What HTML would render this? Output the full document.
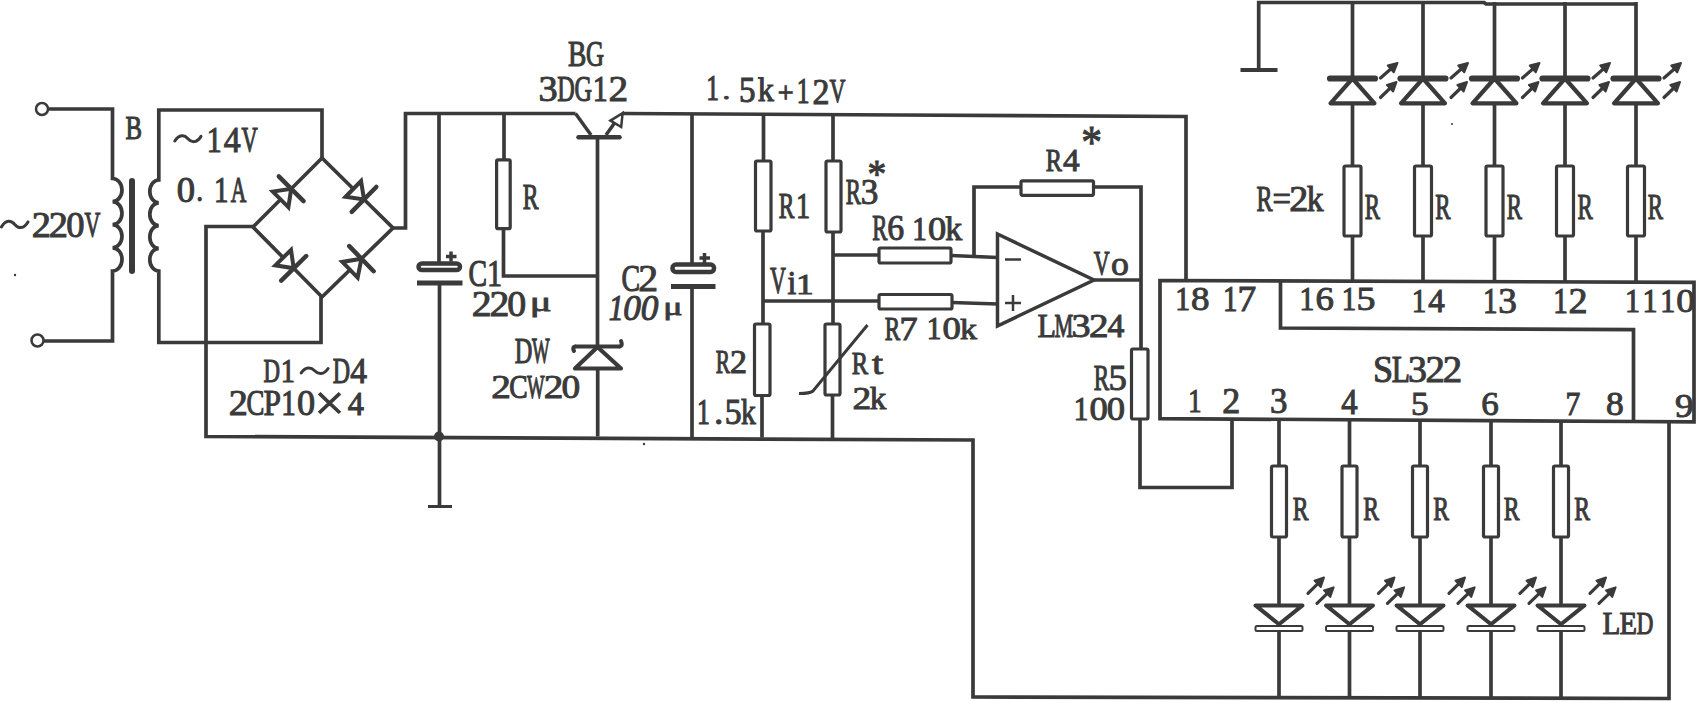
<!DOCTYPE html>
<html><head><meta charset="utf-8"><style>
html,body{margin:0;padding:0;background:#fff;width:1698px;height:703px;overflow:hidden}
svg{display:block}
</style></head><body>
<svg width="1698" height="703" viewBox="0 0 1698 703">
<rect width="1698" height="703" fill="#fff"/>
<circle cx="42" cy="109" r="6" stroke="#3a3a3a" stroke-width="2.5" fill="#fff"/>
<path d="M48,109 H112.5 V178.5  A9.5,11.549999999999997 0 0 1 112.5,201.6 A9.5,11.549999999999997 0 0 1 112.5,224.7 A9.5,11.550000000000011 0 0 1 112.5,247.8 A9.5,11.599999999999994 0 0 1 112.5,271 V341 H43.5" stroke="#3a3a3a" stroke-width="3.7" fill="none" stroke-linecap="butt" stroke-linejoin="miter" />
<circle cx="37.5" cy="340.5" r="6" stroke="#3a3a3a" stroke-width="2.5" fill="#fff"/>
<path d="M132,181 V271" stroke="#3a3a3a" stroke-width="6" fill="none" stroke-linecap="round" stroke-linejoin="miter" />
<path d="M321,297 V342.5 H158.8 V271 A9,-11.299999999999997 0 0 1 158.8,248.4 A9,-11.400000000000006 0 0 1 158.8,225.6 A9,-11.399999999999991 0 0 1 158.8,202.8 A9,-11.400000000000006 0 0 1 158.8,180 V110 H322 V158" stroke="#3a3a3a" stroke-width="3.7" fill="none" stroke-linecap="butt" stroke-linejoin="miter" />
<path d="M322,158 L393,228 L322,297 L253,227 Z" stroke="#3a3a3a" stroke-width="3.7" fill="none" stroke-linecap="butt" stroke-linejoin="miter" />
<polygon points="288.3553390593274,207.20101012677668 272.7989898732233,191.64466094067262 291.18376618407353,188.81623381592644" stroke="#3a3a3a" stroke-width="4" fill="#fff" stroke-linejoin="miter"/>
<path d="M303.5581348548381,201.190602486691 L278.80939751330897,176.44186514516187" stroke="#3a3a3a" stroke-width="4.5" fill="none" stroke-linecap="round" stroke-linejoin="miter" />
<polygon points="345.6097518039355,196.7244059961746 361.0553838252017,181.0581220888903 364.01412502408067,199.42237678430487" stroke="#3a3a3a" stroke-width="4" fill="#fff" stroke-linejoin="miter"/>
<path d="M351.7278268253462,211.88419352873558 L376.30042322281514,186.96056003987417" stroke="#3a3a3a" stroke-width="4.5" fill="none" stroke-linecap="round" stroke-linejoin="miter" />
<polygon points="275.3521352101436,265.34556104097913 291.0199951207586,249.9015277005158 293.7160878975852,268.306176127985" stroke="#3a3a3a" stroke-width="4" fill="#fff" stroke-linejoin="miter"/>
<path d="M281.2530175141415,280.5912026488081 L306.17915828102895,256.0211496071619" stroke="#3a3a3a" stroke-width="4.5" fill="none" stroke-linecap="round" stroke-linejoin="miter" />
<polygon points="357.63454577916167,277.70805486445613 342.3019946190802,261.9310819316187 361.4424323320936,258.6686220997964" stroke="#3a3a3a" stroke-width="4" fill="#fff" stroke-linejoin="miter"/>
<path d="M373.6387798457947,271.21848693273523 L349.24608481839243,246.11875726685753" stroke="#3a3a3a" stroke-width="4.5" fill="none" stroke-linecap="round" stroke-linejoin="miter" />
<path d="M393,228 H405.5 V113.5 H575.5" stroke="#3a3a3a" stroke-width="3.7" fill="none" stroke-linecap="butt" stroke-linejoin="miter" />
<path d="M253,226.5 H206 V436.5 L973,440 V697 L1669,698.5 V422" stroke="#3a3a3a" stroke-width="3.7" fill="none" stroke-linecap="butt" stroke-linejoin="miter" />
<path d="M439,113.5 V263.5" stroke="#3a3a3a" stroke-width="3.7" fill="none" stroke-linecap="butt" stroke-linejoin="miter" />
<rect x="418.5" y="263.5" width="41.5" height="6.5" rx="3.5" stroke="#3a3a3a" stroke-width="4.5" fill="none"/>
<path d="M446,256.5 H456.5 M451,251.5 V261.5" stroke="#3a3a3a" stroke-width="3.5" fill="none" stroke-linecap="butt" stroke-linejoin="miter" />
<path d="M417,283 H462.5" stroke="#3a3a3a" stroke-width="5" fill="none" stroke-linecap="butt" stroke-linejoin="miter" />
<path d="M439.5,283 V506.5" stroke="#3a3a3a" stroke-width="3.7" fill="none" stroke-linecap="butt" stroke-linejoin="miter" />
<path d="M428,506.5 H452" stroke="#3a3a3a" stroke-width="3" fill="none" stroke-linecap="butt" stroke-linejoin="miter" />
<circle cx="439" cy="436.5" r="5" fill="#3a3a3a"/>
<path d="M504,113.5 V159" stroke="#3a3a3a" stroke-width="3.7" fill="none" stroke-linecap="butt" stroke-linejoin="miter" />
<rect x="496.6" y="159.8" width="13.599999999999966" height="68.89999999999998" rx="1.5" stroke="#3a3a3a" stroke-width="3.2" fill="none"/>
<path d="M503.5,230 V276 H597.5" stroke="#3a3a3a" stroke-width="3.7" fill="none" stroke-linecap="butt" stroke-linejoin="miter" />
<path d="M575.5,113.5 L591,135" stroke="#3a3a3a" stroke-width="3.5" fill="none" stroke-linecap="butt" stroke-linejoin="miter" />
<path d="M578.5,137.3 H619.5" stroke="#3a3a3a" stroke-width="4.5" fill="none" stroke-linecap="round" stroke-linejoin="miter" />
<path d="M606,135 L616,121" stroke="#3a3a3a" stroke-width="3.5" fill="none" stroke-linecap="butt" stroke-linejoin="miter" />
<polygon points="610.5,120.6 621.2,127 622.6,113.2" stroke="#3a3a3a" stroke-width="2.5" fill="#fff" stroke-linejoin="miter"/>
<path d="M622,113.5 L900,115 L1186,116.5 V280.5" stroke="#3a3a3a" stroke-width="3.7" fill="none" stroke-linecap="butt" stroke-linejoin="miter" />
<path d="M597.5,139 V347" stroke="#3a3a3a" stroke-width="3.7" fill="none" stroke-linecap="butt" stroke-linejoin="miter" />
<path d="M575,346.5 H620" stroke="#3a3a3a" stroke-width="4" fill="none" stroke-linecap="butt" stroke-linejoin="miter" />
<path d="M575,346.5 Q572,347 574,351" stroke="#3a3a3a" stroke-width="4" fill="none" stroke-linecap="round" stroke-linejoin="miter" />
<path d="M620,346.5 Q623,346 621,341" stroke="#3a3a3a" stroke-width="4" fill="none" stroke-linecap="round" stroke-linejoin="miter" />
<polygon points="597.5,347 575,368.5 621,368.5" stroke="#3a3a3a" stroke-width="4.2" fill="none" stroke-linejoin="round"/>
<path d="M597.7,368.5 V436.5" stroke="#3a3a3a" stroke-width="3.7" fill="none" stroke-linecap="butt" stroke-linejoin="miter" />
<path d="M692,115 V264" stroke="#3a3a3a" stroke-width="3.7" fill="none" stroke-linecap="butt" stroke-linejoin="miter" />
<rect x="672.5" y="264.5" width="41.5" height="7.5" rx="3.5" stroke="#3a3a3a" stroke-width="4.5" fill="none"/>
<path d="M699.5,258 H710 M704.5,253 V263" stroke="#3a3a3a" stroke-width="3.5" fill="none" stroke-linecap="butt" stroke-linejoin="miter" />
<path d="M671,286.5 H715.5" stroke="#3a3a3a" stroke-width="5" fill="none" stroke-linecap="butt" stroke-linejoin="miter" />
<path d="M692,286 V437.5" stroke="#3a3a3a" stroke-width="3.7" fill="none" stroke-linecap="butt" stroke-linejoin="miter" />
<path d="M763.5,116 V161" stroke="#3a3a3a" stroke-width="3.7" fill="none" stroke-linecap="butt" stroke-linejoin="miter" />
<rect x="755.5" y="161" width="15.5" height="70" rx="1.5" stroke="#3a3a3a" stroke-width="3.2" fill="none"/>
<path d="M763,231 V324" stroke="#3a3a3a" stroke-width="3.7" fill="none" stroke-linecap="butt" stroke-linejoin="miter" />
<rect x="754.5" y="324" width="15.5" height="71.5" rx="1.5" stroke="#3a3a3a" stroke-width="3.2" fill="none"/>
<path d="M762,395.5 V437.5" stroke="#3a3a3a" stroke-width="3.7" fill="none" stroke-linecap="butt" stroke-linejoin="miter" />
<path d="M763,301 H879" stroke="#3a3a3a" stroke-width="3.7" fill="none" stroke-linecap="butt" stroke-linejoin="miter" />
<rect x="879" y="294.5" width="73" height="14.5" rx="1.5" stroke="#3a3a3a" stroke-width="3.2" fill="none"/>
<path d="M952,302.5 L997.5,304" stroke="#3a3a3a" stroke-width="3.7" fill="none" stroke-linecap="butt" stroke-linejoin="miter" />
<path d="M833,116 V161" stroke="#3a3a3a" stroke-width="3.7" fill="none" stroke-linecap="butt" stroke-linejoin="miter" />
<rect x="826" y="161" width="15" height="71" rx="1.5" stroke="#3a3a3a" stroke-width="3.2" fill="none"/>
<path d="M833,232 V324" stroke="#3a3a3a" stroke-width="3.7" fill="none" stroke-linecap="butt" stroke-linejoin="miter" />
<rect x="825" y="324" width="15" height="71" rx="1.5" stroke="#3a3a3a" stroke-width="3.2" fill="none"/>
<path d="M832.5,395 V439" stroke="#3a3a3a" stroke-width="3.7" fill="none" stroke-linecap="butt" stroke-linejoin="miter" />
<path d="M867.5,325 L813,391 Q810,393.5 799,393.5" stroke="#3a3a3a" stroke-width="3" fill="none" stroke-linecap="butt" stroke-linejoin="miter" />
<path d="M833,255 H879" stroke="#3a3a3a" stroke-width="3.7" fill="none" stroke-linecap="butt" stroke-linejoin="miter" />
<rect x="879" y="248" width="72" height="15" rx="1.5" stroke="#3a3a3a" stroke-width="3.2" fill="none"/>
<path d="M951,255.5 L997.5,257.5" stroke="#3a3a3a" stroke-width="3.7" fill="none" stroke-linecap="butt" stroke-linejoin="miter" />
<path d="M974,256.5 V187 H1020" stroke="#3a3a3a" stroke-width="3.7" fill="none" stroke-linecap="butt" stroke-linejoin="miter" />
<rect x="1021" y="180.8" width="72.5" height="14.5" rx="1.5" stroke="#3a3a3a" stroke-width="3.2" fill="none"/>
<path d="M1093.5,187 H1141 V349" stroke="#3a3a3a" stroke-width="3.7" fill="none" stroke-linecap="butt" stroke-linejoin="miter" />
<rect x="1131.5" y="349" width="16.5" height="70" rx="1.5" stroke="#3a3a3a" stroke-width="3.2" fill="none"/>
<path d="M1140,419 V487.5 H1232 V420" stroke="#3a3a3a" stroke-width="3.7" fill="none" stroke-linecap="butt" stroke-linejoin="miter" />
<polygon points="997.5,234 1094,280 997.5,326" stroke="#3a3a3a" stroke-width="3.5" fill="none" stroke-linejoin="miter"/>
<path d="M1094,280 H1141" stroke="#3a3a3a" stroke-width="3.7" fill="none" stroke-linecap="butt" stroke-linejoin="miter" />
<path d="M1005,259.5 H1021" stroke="#3a3a3a" stroke-width="2.5" fill="none" stroke-linecap="butt" stroke-linejoin="miter" />
<path d="M1005,303 H1021 M1013,295 V311" stroke="#3a3a3a" stroke-width="2.5" fill="none" stroke-linecap="butt" stroke-linejoin="miter" />
<path d="M1160,280.5 L1694,282.3 L1694,421.8 L1634,421.5 L1160,418.6 Z" stroke="#3a3a3a" stroke-width="3.7" fill="none" stroke-linecap="butt" stroke-linejoin="miter" />
<path d="M1280.5,281 V328 L1633.5,329.7 V421" stroke="#3a3a3a" stroke-width="3.7" fill="none" stroke-linecap="butt" stroke-linejoin="miter" />
<path d="M1258.7,70 V2.5 H1484 L1486,4 H1637" stroke="#3a3a3a" stroke-width="3.7" fill="none" stroke-linecap="butt" stroke-linejoin="miter" />
<path d="M1240.5,70 H1277.5" stroke="#3a3a3a" stroke-width="4.2" fill="none" stroke-linecap="butt" stroke-linejoin="miter" />
<path d="M1352.5,281 V236" stroke="#3a3a3a" stroke-width="3.7" fill="none" stroke-linecap="butt" stroke-linejoin="miter" />
<rect x="1344.0" y="166" width="17.0" height="70" rx="1.5" stroke="#3a3a3a" stroke-width="3.2" fill="none"/>
<path d="M1352.5,166 V2" stroke="#3a3a3a" stroke-width="3.7" fill="none" stroke-linecap="butt" stroke-linejoin="miter" />
<polygon points="1352.5,78.5 1330.5,103.3 1374.5,103.3" stroke="#3a3a3a" stroke-width="4.2" fill="#fff" stroke-linejoin="round"/>
<path d="M1330.0,78.5 H1375.0" stroke="#3a3a3a" stroke-width="6.2" fill="none" stroke-linecap="round" stroke-linejoin="miter" />
<path d="M1380.5,78 L1390.7514593017142,68.95459473378162" stroke="#3a3a3a" stroke-width="3.2" fill="none" stroke-linecap="round" stroke-linejoin="miter" />
<polygon points="1397.5,63 1393.728756668605,72.32886508292454 1387.7741619348235,65.5803243846387" stroke="#3a3a3a" stroke-width="2" fill="#3a3a3a" stroke-linejoin="round"/>
<path d="M1380.5,97.5 L1390.0358379948975,88.26215694244311" stroke="#3a3a3a" stroke-width="3.2" fill="none" stroke-linecap="round" stroke-linejoin="miter" />
<polygon points="1396.5,82 1393.1669164661191,91.4942379449944 1386.904759523676,85.03007593989183" stroke="#3a3a3a" stroke-width="2" fill="#3a3a3a" stroke-linejoin="round"/>
<path d="M1423,281 V236" stroke="#3a3a3a" stroke-width="3.7" fill="none" stroke-linecap="butt" stroke-linejoin="miter" />
<rect x="1414.5" y="166" width="17.0" height="70" rx="1.5" stroke="#3a3a3a" stroke-width="3.2" fill="none"/>
<path d="M1423,166 V2" stroke="#3a3a3a" stroke-width="3.7" fill="none" stroke-linecap="butt" stroke-linejoin="miter" />
<polygon points="1423,78.5 1401,103.3 1445,103.3" stroke="#3a3a3a" stroke-width="4.2" fill="#fff" stroke-linejoin="round"/>
<path d="M1400.5,78.5 H1445.5" stroke="#3a3a3a" stroke-width="6.2" fill="none" stroke-linecap="round" stroke-linejoin="miter" />
<path d="M1451,78 L1461.2514593017142,68.95459473378162" stroke="#3a3a3a" stroke-width="3.2" fill="none" stroke-linecap="round" stroke-linejoin="miter" />
<polygon points="1468,63 1464.228756668605,72.32886508292454 1458.2741619348235,65.5803243846387" stroke="#3a3a3a" stroke-width="2" fill="#3a3a3a" stroke-linejoin="round"/>
<path d="M1451,97.5 L1460.5358379948975,88.26215694244311" stroke="#3a3a3a" stroke-width="3.2" fill="none" stroke-linecap="round" stroke-linejoin="miter" />
<polygon points="1467,82 1463.6669164661191,91.4942379449944 1457.404759523676,85.03007593989183" stroke="#3a3a3a" stroke-width="2" fill="#3a3a3a" stroke-linejoin="round"/>
<path d="M1494.5,281 V236" stroke="#3a3a3a" stroke-width="3.7" fill="none" stroke-linecap="butt" stroke-linejoin="miter" />
<rect x="1486.0" y="166" width="17.0" height="70" rx="1.5" stroke="#3a3a3a" stroke-width="3.2" fill="none"/>
<path d="M1494.5,166 V2" stroke="#3a3a3a" stroke-width="3.7" fill="none" stroke-linecap="butt" stroke-linejoin="miter" />
<polygon points="1494.5,78.5 1472.5,103.3 1516.5,103.3" stroke="#3a3a3a" stroke-width="4.2" fill="#fff" stroke-linejoin="round"/>
<path d="M1472.0,78.5 H1517.0" stroke="#3a3a3a" stroke-width="6.2" fill="none" stroke-linecap="round" stroke-linejoin="miter" />
<path d="M1522.5,78 L1532.7514593017142,68.95459473378162" stroke="#3a3a3a" stroke-width="3.2" fill="none" stroke-linecap="round" stroke-linejoin="miter" />
<polygon points="1539.5,63 1535.728756668605,72.32886508292454 1529.7741619348235,65.5803243846387" stroke="#3a3a3a" stroke-width="2" fill="#3a3a3a" stroke-linejoin="round"/>
<path d="M1522.5,97.5 L1532.0358379948975,88.26215694244311" stroke="#3a3a3a" stroke-width="3.2" fill="none" stroke-linecap="round" stroke-linejoin="miter" />
<polygon points="1538.5,82 1535.1669164661191,91.4942379449944 1528.904759523676,85.03007593989183" stroke="#3a3a3a" stroke-width="2" fill="#3a3a3a" stroke-linejoin="round"/>
<path d="M1565,281 V236" stroke="#3a3a3a" stroke-width="3.7" fill="none" stroke-linecap="butt" stroke-linejoin="miter" />
<rect x="1556.5" y="166" width="17.0" height="70" rx="1.5" stroke="#3a3a3a" stroke-width="3.2" fill="none"/>
<path d="M1565,166 V2" stroke="#3a3a3a" stroke-width="3.7" fill="none" stroke-linecap="butt" stroke-linejoin="miter" />
<polygon points="1565,78.5 1543,103.3 1587,103.3" stroke="#3a3a3a" stroke-width="4.2" fill="#fff" stroke-linejoin="round"/>
<path d="M1542.5,78.5 H1587.5" stroke="#3a3a3a" stroke-width="6.2" fill="none" stroke-linecap="round" stroke-linejoin="miter" />
<path d="M1593,78 L1603.2514593017142,68.95459473378162" stroke="#3a3a3a" stroke-width="3.2" fill="none" stroke-linecap="round" stroke-linejoin="miter" />
<polygon points="1610,63 1606.228756668605,72.32886508292454 1600.2741619348235,65.5803243846387" stroke="#3a3a3a" stroke-width="2" fill="#3a3a3a" stroke-linejoin="round"/>
<path d="M1593,97.5 L1602.5358379948975,88.26215694244311" stroke="#3a3a3a" stroke-width="3.2" fill="none" stroke-linecap="round" stroke-linejoin="miter" />
<polygon points="1609,82 1605.6669164661191,91.4942379449944 1599.404759523676,85.03007593989183" stroke="#3a3a3a" stroke-width="2" fill="#3a3a3a" stroke-linejoin="round"/>
<path d="M1636,281 V236" stroke="#3a3a3a" stroke-width="3.7" fill="none" stroke-linecap="butt" stroke-linejoin="miter" />
<rect x="1627.5" y="166" width="17.0" height="70" rx="1.5" stroke="#3a3a3a" stroke-width="3.2" fill="none"/>
<path d="M1636,166 V2" stroke="#3a3a3a" stroke-width="3.7" fill="none" stroke-linecap="butt" stroke-linejoin="miter" />
<polygon points="1636,78.5 1614,103.3 1658,103.3" stroke="#3a3a3a" stroke-width="4.2" fill="#fff" stroke-linejoin="round"/>
<path d="M1613.5,78.5 H1658.5" stroke="#3a3a3a" stroke-width="6.2" fill="none" stroke-linecap="round" stroke-linejoin="miter" />
<path d="M1664,78 L1674.2514593017142,68.95459473378162" stroke="#3a3a3a" stroke-width="3.2" fill="none" stroke-linecap="round" stroke-linejoin="miter" />
<polygon points="1681,63 1677.228756668605,72.32886508292454 1671.2741619348235,65.5803243846387" stroke="#3a3a3a" stroke-width="2" fill="#3a3a3a" stroke-linejoin="round"/>
<path d="M1664,97.5 L1673.5358379948975,88.26215694244311" stroke="#3a3a3a" stroke-width="3.2" fill="none" stroke-linecap="round" stroke-linejoin="miter" />
<polygon points="1680,82 1676.6669164661191,91.4942379449944 1670.404759523676,85.03007593989183" stroke="#3a3a3a" stroke-width="2" fill="#3a3a3a" stroke-linejoin="round"/>
<path d="M1279,421 V466" stroke="#3a3a3a" stroke-width="3.7" fill="none" stroke-linecap="butt" stroke-linejoin="miter" />
<rect x="1271.5" y="466" width="15.0" height="71" rx="1.5" stroke="#3a3a3a" stroke-width="3.2" fill="none"/>
<path d="M1279,537 V698" stroke="#3a3a3a" stroke-width="3.7" fill="none" stroke-linecap="butt" stroke-linejoin="miter" />
<polygon points="1255.5,605.4 1302.5,605.4 1279,624.3" stroke="#3a3a3a" stroke-width="4" fill="#fff" stroke-linejoin="round"/>
<rect x="1255.5" y="626" width="47.0" height="5" rx="1.5" stroke="#3a3a3a" stroke-width="2" fill="#fff"/>
<path d="M1308,593.4 L1317.6161206151683,583.8439801386764" stroke="#3a3a3a" stroke-width="3.2" fill="none" stroke-linecap="round" stroke-linejoin="miter" />
<polygon points="1324,577.5 1320.7881106845066,587.0359198310923 1314.44413054583,580.6520404462606" stroke="#3a3a3a" stroke-width="2" fill="#3a3a3a" stroke-linejoin="round"/>
<path d="M1317,603.4 L1327.120008277528,593.6457751541898" stroke="#3a3a3a" stroke-width="3.2" fill="none" stroke-linecap="round" stroke-linejoin="miter" />
<polygon points="1333.6,587.4 1330.242895854623,596.8857710154257 1323.9971207004332,590.4057792929539" stroke="#3a3a3a" stroke-width="2" fill="#3a3a3a" stroke-linejoin="round"/>
<path d="M1349.5,421 V466" stroke="#3a3a3a" stroke-width="3.7" fill="none" stroke-linecap="butt" stroke-linejoin="miter" />
<rect x="1342.0" y="466" width="15.0" height="71" rx="1.5" stroke="#3a3a3a" stroke-width="3.2" fill="none"/>
<path d="M1349.5,537 V698" stroke="#3a3a3a" stroke-width="3.7" fill="none" stroke-linecap="butt" stroke-linejoin="miter" />
<polygon points="1326.0,605.4 1373.0,605.4 1349.5,624.3" stroke="#3a3a3a" stroke-width="4" fill="#fff" stroke-linejoin="round"/>
<rect x="1326.0" y="626" width="47.0" height="5" rx="1.5" stroke="#3a3a3a" stroke-width="2" fill="#fff"/>
<path d="M1378.5,593.4 L1388.1161206151683,583.8439801386764" stroke="#3a3a3a" stroke-width="3.2" fill="none" stroke-linecap="round" stroke-linejoin="miter" />
<polygon points="1394.5,577.5 1391.2881106845066,587.0359198310923 1384.94413054583,580.6520404462606" stroke="#3a3a3a" stroke-width="2" fill="#3a3a3a" stroke-linejoin="round"/>
<path d="M1387.5,603.4 L1397.620008277528,593.6457751541898" stroke="#3a3a3a" stroke-width="3.2" fill="none" stroke-linecap="round" stroke-linejoin="miter" />
<polygon points="1404.1,587.4 1400.742895854623,596.8857710154257 1394.4971207004332,590.4057792929539" stroke="#3a3a3a" stroke-width="2" fill="#3a3a3a" stroke-linejoin="round"/>
<path d="M1420,421 V466" stroke="#3a3a3a" stroke-width="3.7" fill="none" stroke-linecap="butt" stroke-linejoin="miter" />
<rect x="1412.5" y="466" width="15.0" height="71" rx="1.5" stroke="#3a3a3a" stroke-width="3.2" fill="none"/>
<path d="M1420,537 V698" stroke="#3a3a3a" stroke-width="3.7" fill="none" stroke-linecap="butt" stroke-linejoin="miter" />
<polygon points="1396.5,605.4 1443.5,605.4 1420,624.3" stroke="#3a3a3a" stroke-width="4" fill="#fff" stroke-linejoin="round"/>
<rect x="1396.5" y="626" width="47.0" height="5" rx="1.5" stroke="#3a3a3a" stroke-width="2" fill="#fff"/>
<path d="M1449,593.4 L1458.6161206151683,583.8439801386764" stroke="#3a3a3a" stroke-width="3.2" fill="none" stroke-linecap="round" stroke-linejoin="miter" />
<polygon points="1465,577.5 1461.7881106845066,587.0359198310923 1455.44413054583,580.6520404462606" stroke="#3a3a3a" stroke-width="2" fill="#3a3a3a" stroke-linejoin="round"/>
<path d="M1458,603.4 L1468.120008277528,593.6457751541898" stroke="#3a3a3a" stroke-width="3.2" fill="none" stroke-linecap="round" stroke-linejoin="miter" />
<polygon points="1474.6,587.4 1471.242895854623,596.8857710154257 1464.9971207004332,590.4057792929539" stroke="#3a3a3a" stroke-width="2" fill="#3a3a3a" stroke-linejoin="round"/>
<path d="M1491,421 V466" stroke="#3a3a3a" stroke-width="3.7" fill="none" stroke-linecap="butt" stroke-linejoin="miter" />
<rect x="1483.5" y="466" width="15.0" height="71" rx="1.5" stroke="#3a3a3a" stroke-width="3.2" fill="none"/>
<path d="M1491,537 V698" stroke="#3a3a3a" stroke-width="3.7" fill="none" stroke-linecap="butt" stroke-linejoin="miter" />
<polygon points="1467.5,605.4 1514.5,605.4 1491,624.3" stroke="#3a3a3a" stroke-width="4" fill="#fff" stroke-linejoin="round"/>
<rect x="1467.5" y="626" width="47.0" height="5" rx="1.5" stroke="#3a3a3a" stroke-width="2" fill="#fff"/>
<path d="M1520,593.4 L1529.6161206151683,583.8439801386764" stroke="#3a3a3a" stroke-width="3.2" fill="none" stroke-linecap="round" stroke-linejoin="miter" />
<polygon points="1536,577.5 1532.7881106845066,587.0359198310923 1526.44413054583,580.6520404462606" stroke="#3a3a3a" stroke-width="2" fill="#3a3a3a" stroke-linejoin="round"/>
<path d="M1529,603.4 L1539.120008277528,593.6457751541898" stroke="#3a3a3a" stroke-width="3.2" fill="none" stroke-linecap="round" stroke-linejoin="miter" />
<polygon points="1545.6,587.4 1542.242895854623,596.8857710154257 1535.9971207004332,590.4057792929539" stroke="#3a3a3a" stroke-width="2" fill="#3a3a3a" stroke-linejoin="round"/>
<path d="M1561,421 V466" stroke="#3a3a3a" stroke-width="3.7" fill="none" stroke-linecap="butt" stroke-linejoin="miter" />
<rect x="1553.5" y="466" width="15.0" height="71" rx="1.5" stroke="#3a3a3a" stroke-width="3.2" fill="none"/>
<path d="M1561,537 V698" stroke="#3a3a3a" stroke-width="3.7" fill="none" stroke-linecap="butt" stroke-linejoin="miter" />
<polygon points="1537.5,605.4 1584.5,605.4 1561,624.3" stroke="#3a3a3a" stroke-width="4" fill="#fff" stroke-linejoin="round"/>
<rect x="1537.5" y="626" width="47.0" height="5" rx="1.5" stroke="#3a3a3a" stroke-width="2" fill="#fff"/>
<path d="M1590,593.4 L1599.6161206151683,583.8439801386764" stroke="#3a3a3a" stroke-width="3.2" fill="none" stroke-linecap="round" stroke-linejoin="miter" />
<polygon points="1606,577.5 1602.7881106845066,587.0359198310923 1596.44413054583,580.6520404462606" stroke="#3a3a3a" stroke-width="2" fill="#3a3a3a" stroke-linejoin="round"/>
<path d="M1599,603.4 L1609.120008277528,593.6457751541898" stroke="#3a3a3a" stroke-width="3.2" fill="none" stroke-linecap="round" stroke-linejoin="miter" />
<polygon points="1615.6,587.4 1612.242895854623,596.8857710154257 1605.9971207004332,590.4057792929539" stroke="#3a3a3a" stroke-width="2" fill="#3a3a3a" stroke-linejoin="round"/>
<circle cx="15" cy="275" r="1.2" fill="#3a3a3a"/>
<circle cx="644" cy="444" r="1.2" fill="#3a3a3a"/>
<circle cx="1452" cy="124" r="1" fill="#3a3a3a"/>
<text transform="translate(31.77,237.26) scale(0.1921,0.1787)" font-family="Liberation Serif" font-weight="normal" font-style="normal" font-size="200" fill="#3a3a3a" stroke="#3a3a3a" stroke-width="1.0" vector-effect="non-scaling-stroke">2</text>
<text transform="translate(48.85,237.26) scale(0.1921,0.1787)" font-family="Liberation Serif" font-weight="normal" font-style="normal" font-size="200" fill="#3a3a3a" stroke="#3a3a3a" stroke-width="1.0" vector-effect="non-scaling-stroke">2</text>
<text transform="translate(66.19,237.26) scale(0.1830,0.1787)" font-family="Liberation Serif" font-weight="normal" font-style="normal" font-size="200" fill="#3a3a3a" stroke="#3a3a3a" stroke-width="1.0" vector-effect="non-scaling-stroke">0</text>
<text transform="translate(84.51,237.26) scale(0.1098,0.1787)" font-family="Liberation Serif" font-weight="normal" font-style="normal" font-size="200" fill="#3a3a3a" stroke="#3a3a3a" stroke-width="1.0" vector-effect="non-scaling-stroke">V</text>
<path d="M1.5,226.86 C5.9,219.48000000000002 11.21,220.3 14.75,224.4 S23.6,229.32 28.0,221.94" stroke="#3a3a3a" stroke-width="3" fill="none" stroke-linecap="round" stroke-linejoin="miter" />
<text transform="translate(125.46,139.03) scale(0.1237,0.1697)" font-family="Liberation Serif" font-weight="normal" font-style="normal" font-size="200" fill="#3a3a3a" stroke="#3a3a3a" stroke-width="1.0" vector-effect="non-scaling-stroke" xml:space="preserve">B</text>
<text transform="translate(206.81,152.27) scale(0.1496,0.1770)" font-family="Liberation Serif" font-weight="normal" font-style="normal" font-size="200" fill="#3a3a3a" stroke="#3a3a3a" stroke-width="1.0" vector-effect="non-scaling-stroke">1</text>
<text transform="translate(223.66,152.27) scale(0.1689,0.1770)" font-family="Liberation Serif" font-weight="normal" font-style="normal" font-size="200" fill="#3a3a3a" stroke="#3a3a3a" stroke-width="1.0" vector-effect="non-scaling-stroke">4</text>
<text transform="translate(241.57,152.27) scale(0.1122,0.1770)" font-family="Liberation Serif" font-weight="normal" font-style="normal" font-size="200" fill="#3a3a3a" stroke="#3a3a3a" stroke-width="1.0" vector-effect="non-scaling-stroke">V</text>
<path d="M174.8,141.04 C179.14000000000001,134.02 184.39600000000002,134.8 187.9,138.7 S196.66,143.38 201.0,136.36" stroke="#3a3a3a" stroke-width="3" fill="none" stroke-linecap="round" stroke-linejoin="miter" />
<text transform="translate(176.63,201.55) scale(0.1833,0.1770)" font-family="Liberation Serif" font-weight="normal" font-style="normal" font-size="200" fill="#3a3a3a" stroke="#3a3a3a" stroke-width="1.0" vector-effect="non-scaling-stroke" xml:space="preserve">0</text>
<text transform="translate(196.21,201.41) scale(0.1375,0.1625)" font-family="Liberation Serif" font-weight="normal" font-style="normal" font-size="200" fill="#3a3a3a" stroke="#3a3a3a" stroke-width="1.0" vector-effect="non-scaling-stroke" xml:space="preserve">.</text>
<text transform="translate(213.89,201.90) scale(0.1450,0.1811)" font-family="Liberation Serif" font-weight="normal" font-style="normal" font-size="200" fill="#3a3a3a" stroke="#3a3a3a" stroke-width="1.0" vector-effect="non-scaling-stroke">1</text>
<text transform="translate(230.66,201.90) scale(0.1080,0.1811)" font-family="Liberation Serif" font-weight="normal" font-style="normal" font-size="200" fill="#3a3a3a" stroke="#3a3a3a" stroke-width="1.0" vector-effect="non-scaling-stroke">A</text>
<text transform="translate(263.61,382.40) scale(0.1143,0.1735)" font-family="Liberation Serif" font-weight="normal" font-style="normal" font-size="200" fill="#3a3a3a" stroke="#3a3a3a" stroke-width="1.0" vector-effect="non-scaling-stroke">D</text>
<text transform="translate(280.74,382.40) scale(0.1416,0.1735)" font-family="Liberation Serif" font-weight="normal" font-style="normal" font-size="200" fill="#3a3a3a" stroke="#3a3a3a" stroke-width="1.0" vector-effect="non-scaling-stroke">1</text>
<path d="M301.2,372.91999999999996 C305.68,366.26 311.062,367 314.65,370.7 S323.62,375.14 328.1,368.48" stroke="#3a3a3a" stroke-width="3" fill="none" stroke-linecap="round" stroke-linejoin="miter" />
<text transform="translate(332.78,382.90) scale(0.1199,0.1773)" font-family="Liberation Serif" font-weight="normal" font-style="normal" font-size="200" fill="#3a3a3a" stroke="#3a3a3a" stroke-width="1.0" vector-effect="non-scaling-stroke">D</text>
<text transform="translate(350.15,382.90) scale(0.1676,0.1773)" font-family="Liberation Serif" font-weight="normal" font-style="normal" font-size="200" fill="#3a3a3a" stroke="#3a3a3a" stroke-width="1.0" vector-effect="non-scaling-stroke">4</text>
<text transform="translate(228.78,414.85) scale(0.1908,0.1770)" font-family="Liberation Serif" font-weight="normal" font-style="normal" font-size="200" fill="#3a3a3a" stroke="#3a3a3a" stroke-width="1.0" vector-effect="non-scaling-stroke">2</text>
<text transform="translate(246.39,414.85) scale(0.1339,0.1770)" font-family="Liberation Serif" font-weight="normal" font-style="normal" font-size="200" fill="#3a3a3a" stroke="#3a3a3a" stroke-width="1.0" vector-effect="non-scaling-stroke">C</text>
<text transform="translate(263.47,414.85) scale(0.1574,0.1770)" font-family="Liberation Serif" font-weight="normal" font-style="normal" font-size="200" fill="#3a3a3a" stroke="#3a3a3a" stroke-width="1.0" vector-effect="non-scaling-stroke">P</text>
<text transform="translate(281.30,414.85) scale(0.1454,0.1770)" font-family="Liberation Serif" font-weight="normal" font-style="normal" font-size="200" fill="#3a3a3a" stroke="#3a3a3a" stroke-width="1.0" vector-effect="non-scaling-stroke">1</text>
<text transform="translate(296.88,414.85) scale(0.1817,0.1770)" font-family="Liberation Serif" font-weight="normal" font-style="normal" font-size="200" fill="#3a3a3a" stroke="#3a3a3a" stroke-width="1.0" vector-effect="non-scaling-stroke">0</text>
<text transform="translate(314.27,419.91) scale(0.2704,0.2580)" font-family="Liberation Serif" font-weight="normal" font-style="normal" font-size="200" fill="#3a3a3a" stroke="#3a3a3a" stroke-width="1.0" vector-effect="non-scaling-stroke" xml:space="preserve">×</text>
<text transform="translate(347.85,414.70) scale(0.1613,0.1697)" font-family="Liberation Serif" font-weight="normal" font-style="normal" font-size="200" fill="#3a3a3a" stroke="#3a3a3a" stroke-width="1.0" vector-effect="non-scaling-stroke" xml:space="preserve">4</text>
<text transform="translate(568.08,66.15) scale(0.1373,0.1754)" font-family="Liberation Serif" font-weight="normal" font-style="normal" font-size="200" fill="#3a3a3a" stroke="#3a3a3a" stroke-width="1.0" vector-effect="non-scaling-stroke">B</text>
<text transform="translate(585.90,66.15) scale(0.1246,0.1754)" font-family="Liberation Serif" font-weight="normal" font-style="normal" font-size="200" fill="#3a3a3a" stroke="#3a3a3a" stroke-width="1.0" vector-effect="non-scaling-stroke">G</text>
<text transform="translate(538.58,101.33) scale(0.1917,0.1836)" font-family="Liberation Serif" font-weight="normal" font-style="normal" font-size="200" fill="#3a3a3a" stroke="#3a3a3a" stroke-width="1.0" vector-effect="non-scaling-stroke">3</text>
<text transform="translate(557.24,101.33) scale(0.1209,0.1836)" font-family="Liberation Serif" font-weight="normal" font-style="normal" font-size="200" fill="#3a3a3a" stroke="#3a3a3a" stroke-width="1.0" vector-effect="non-scaling-stroke">D</text>
<text transform="translate(574.47,101.33) scale(0.1209,0.1836)" font-family="Liberation Serif" font-weight="normal" font-style="normal" font-size="200" fill="#3a3a3a" stroke="#3a3a3a" stroke-width="1.0" vector-effect="non-scaling-stroke">G</text>
<text transform="translate(592.83,101.33) scale(0.1497,0.1836)" font-family="Liberation Serif" font-weight="normal" font-style="normal" font-size="200" fill="#3a3a3a" stroke="#3a3a3a" stroke-width="1.0" vector-effect="non-scaling-stroke">1</text>
<text transform="translate(608.61,101.33) scale(0.1965,0.1836)" font-family="Liberation Serif" font-weight="normal" font-style="normal" font-size="200" fill="#3a3a3a" stroke="#3a3a3a" stroke-width="1.0" vector-effect="non-scaling-stroke">2</text>
<text transform="translate(706.21,99.70) scale(0.1271,0.1750)" font-family="Liberation Serif" font-weight="normal" font-style="normal" font-size="200" fill="#3a3a3a" stroke="#3a3a3a" stroke-width="1.0" vector-effect="non-scaling-stroke" xml:space="preserve">1</text>
<text transform="translate(722.50,99.35) scale(0.1542,0.1167)" font-family="Liberation Serif" font-weight="normal" font-style="normal" font-size="200" fill="#3a3a3a" stroke="#3a3a3a" stroke-width="1.0" vector-effect="non-scaling-stroke" xml:space="preserve">.</text>
<text transform="translate(739.02,101.64) scale(0.1650,0.1805)" font-family="Liberation Serif" font-weight="normal" font-style="normal" font-size="200" fill="#3a3a3a" stroke="#3a3a3a" stroke-width="1.0" vector-effect="non-scaling-stroke" xml:space="preserve">5</text>
<text transform="translate(757.85,100.60) scale(0.1615,0.1691)" font-family="Liberation Serif" font-weight="normal" font-style="normal" font-size="200" fill="#3a3a3a" stroke="#3a3a3a" stroke-width="1.0" vector-effect="non-scaling-stroke" xml:space="preserve">k</text>
<text transform="translate(777.79,101.55) scale(0.1409,0.1500)" font-family="Liberation Serif" font-weight="normal" font-style="normal" font-size="200" fill="#3a3a3a" stroke="#3a3a3a" stroke-width="1.0" vector-effect="non-scaling-stroke" xml:space="preserve">+</text>
<text transform="translate(796.71,103.00) scale(0.1271,0.1750)" font-family="Liberation Serif" font-weight="normal" font-style="normal" font-size="200" fill="#3a3a3a" stroke="#3a3a3a" stroke-width="1.0" vector-effect="non-scaling-stroke" xml:space="preserve">1</text>
<text transform="translate(812.57,103.90) scale(0.1700,0.1818)" font-family="Liberation Serif" font-weight="normal" font-style="normal" font-size="200" fill="#3a3a3a" stroke="#3a3a3a" stroke-width="1.0" vector-effect="non-scaling-stroke" xml:space="preserve">2</text>
<text transform="translate(829.38,102.48) scale(0.1107,0.1724)" font-family="Liberation Serif" font-weight="normal" font-style="normal" font-size="200" fill="#3a3a3a" stroke="#3a3a3a" stroke-width="1.0" vector-effect="non-scaling-stroke" xml:space="preserve">V</text>
<text transform="translate(522.79,209.10) scale(0.1181,0.1786)" font-family="Liberation Serif" font-weight="normal" font-style="normal" font-size="200" fill="#3a3a3a" stroke="#3a3a3a" stroke-width="1.0" vector-effect="non-scaling-stroke" xml:space="preserve">R</text>
<text transform="translate(468.39,285.92) scale(0.1389,0.1903)" font-family="Liberation Serif" font-weight="normal" font-style="normal" font-size="200" fill="#3a3a3a" stroke="#3a3a3a" stroke-width="1.0" vector-effect="non-scaling-stroke">C</text>
<text transform="translate(487.02,285.92) scale(0.1509,0.1903)" font-family="Liberation Serif" font-weight="normal" font-style="normal" font-size="200" fill="#3a3a3a" stroke="#3a3a3a" stroke-width="1.0" vector-effect="non-scaling-stroke">1</text>
<text transform="translate(471.71,315.73) scale(0.1990,0.1837)" font-family="Liberation Serif" font-weight="normal" font-style="normal" font-size="200" fill="#3a3a3a" stroke="#3a3a3a" stroke-width="1.0" vector-effect="non-scaling-stroke">2</text>
<text transform="translate(489.40,315.73) scale(0.1990,0.1837)" font-family="Liberation Serif" font-weight="normal" font-style="normal" font-size="200" fill="#3a3a3a" stroke="#3a3a3a" stroke-width="1.0" vector-effect="non-scaling-stroke">2</text>
<text transform="translate(507.36,315.73) scale(0.1895,0.1837)" font-family="Liberation Serif" font-weight="normal" font-style="normal" font-size="200" fill="#3a3a3a" stroke="#3a3a3a" stroke-width="1.0" vector-effect="non-scaling-stroke">0</text>
<text transform="translate(529.84,310.78) scale(0.2036,0.1400)" font-family="Liberation Serif" font-weight="normal" font-style="normal" font-size="200" fill="#3a3a3a" stroke="#3a3a3a" stroke-width="1.0" vector-effect="non-scaling-stroke" xml:space="preserve">μ</text>
<text transform="translate(621.39,290.53) scale(0.1392,0.1851)" font-family="Liberation Serif" font-weight="normal" font-style="normal" font-size="200" fill="#3a3a3a" stroke="#3a3a3a" stroke-width="1.0" vector-effect="non-scaling-stroke">C</text>
<text transform="translate(638.35,290.53) scale(0.1984,0.1851)" font-family="Liberation Serif" font-weight="normal" font-style="normal" font-size="200" fill="#3a3a3a" stroke="#3a3a3a" stroke-width="1.0" vector-effect="non-scaling-stroke">2</text>
<text transform="translate(608.87,319.75) scale(0.1478,0.1748)" font-family="Liberation Serif" font-weight="normal" font-style="italic" font-size="200" fill="#3a3a3a" stroke="#3a3a3a" stroke-width="1.0" vector-effect="non-scaling-stroke">1</text>
<text transform="translate(623.35,319.75) scale(0.1769,0.1748)" font-family="Liberation Serif" font-weight="normal" font-style="italic" font-size="200" fill="#3a3a3a" stroke="#3a3a3a" stroke-width="1.0" vector-effect="non-scaling-stroke">0</text>
<text transform="translate(640.84,319.75) scale(0.1769,0.1748)" font-family="Liberation Serif" font-weight="normal" font-style="italic" font-size="200" fill="#3a3a3a" stroke="#3a3a3a" stroke-width="1.0" vector-effect="non-scaling-stroke">0</text>
<text transform="translate(663.33,315.19) scale(0.1795,0.1304)" font-family="Liberation Serif" font-weight="normal" font-style="normal" font-size="200" fill="#3a3a3a" stroke="#3a3a3a" stroke-width="1.0" vector-effect="non-scaling-stroke" xml:space="preserve">μ</text>
<text transform="translate(514.67,363.36) scale(0.1218,0.1784)" font-family="Liberation Serif" font-weight="normal" font-style="normal" font-size="200" fill="#3a3a3a" stroke="#3a3a3a" stroke-width="1.0" vector-effect="non-scaling-stroke">D</text>
<text transform="translate(532.11,363.36) scale(0.0936,0.1784)" font-family="Liberation Serif" font-weight="normal" font-style="normal" font-size="200" fill="#3a3a3a" stroke="#3a3a3a" stroke-width="1.0" vector-effect="non-scaling-stroke">W</text>
<text transform="translate(491.23,397.68) scale(0.1965,0.1721)" font-family="Liberation Serif" font-weight="normal" font-style="normal" font-size="200" fill="#3a3a3a" stroke="#3a3a3a" stroke-width="1.0" vector-effect="non-scaling-stroke">2</text>
<text transform="translate(509.37,397.68) scale(0.1379,0.1721)" font-family="Liberation Serif" font-weight="normal" font-style="normal" font-size="200" fill="#3a3a3a" stroke="#3a3a3a" stroke-width="1.0" vector-effect="non-scaling-stroke">C</text>
<text transform="translate(527.07,397.68) scale(0.0929,0.1721)" font-family="Liberation Serif" font-weight="normal" font-style="normal" font-size="200" fill="#3a3a3a" stroke="#3a3a3a" stroke-width="1.0" vector-effect="non-scaling-stroke">W</text>
<text transform="translate(543.64,397.68) scale(0.1965,0.1721)" font-family="Liberation Serif" font-weight="normal" font-style="normal" font-size="200" fill="#3a3a3a" stroke="#3a3a3a" stroke-width="1.0" vector-effect="non-scaling-stroke">2</text>
<text transform="translate(561.38,397.68) scale(0.1872,0.1721)" font-family="Liberation Serif" font-weight="normal" font-style="normal" font-size="200" fill="#3a3a3a" stroke="#3a3a3a" stroke-width="1.0" vector-effect="non-scaling-stroke">0</text>
<text transform="translate(778.80,217.70) scale(0.1166,0.1765)" font-family="Liberation Serif" font-weight="normal" font-style="normal" font-size="200" fill="#3a3a3a" stroke="#3a3a3a" stroke-width="1.0" vector-effect="non-scaling-stroke">R</text>
<text transform="translate(795.89,217.70) scale(0.1411,0.1765)" font-family="Liberation Serif" font-weight="normal" font-style="normal" font-size="200" fill="#3a3a3a" stroke="#3a3a3a" stroke-width="1.0" vector-effect="non-scaling-stroke">1</text>
<text transform="translate(769.98,293.03) scale(0.1100,0.1910)" font-family="Liberation Serif" font-weight="normal" font-style="normal" font-size="200" fill="#3a3a3a" stroke="#3a3a3a" stroke-width="1.0" vector-effect="non-scaling-stroke" xml:space="preserve">V</text>
<text transform="translate(787.57,293.60) scale(0.1583,0.1674)" font-family="Liberation Serif" font-weight="normal" font-style="normal" font-size="200" fill="#3a3a3a" stroke="#3a3a3a" stroke-width="1.0" vector-effect="non-scaling-stroke" xml:space="preserve">i</text>
<text transform="translate(795.91,293.60) scale(0.1771,0.1523)" font-family="Liberation Serif" font-weight="normal" font-style="normal" font-size="200" fill="#3a3a3a" stroke="#3a3a3a" stroke-width="1.0" vector-effect="non-scaling-stroke" xml:space="preserve">1</text>
<text transform="translate(715.86,372.60) scale(0.1070,0.1644)" font-family="Liberation Serif" font-weight="normal" font-style="normal" font-size="200" fill="#3a3a3a" stroke="#3a3a3a" stroke-width="1.0" vector-effect="non-scaling-stroke">R</text>
<text transform="translate(730.08,372.60) scale(0.1699,0.1644)" font-family="Liberation Serif" font-weight="normal" font-style="normal" font-size="200" fill="#3a3a3a" stroke="#3a3a3a" stroke-width="1.0" vector-effect="non-scaling-stroke">2</text>
<text transform="translate(696.89,424.27) scale(0.1283,0.1768)" font-family="Liberation Serif" font-weight="normal" font-style="normal" font-size="200" fill="#3a3a3a" stroke="#3a3a3a" stroke-width="1.0" vector-effect="non-scaling-stroke">1</text>
<text transform="translate(713.98,424.27) scale(0.1871,0.1768)" font-family="Liberation Serif" font-weight="normal" font-style="normal" font-size="200" fill="#3a3a3a" stroke="#3a3a3a" stroke-width="1.0" vector-effect="non-scaling-stroke">.</text>
<text transform="translate(724.87,424.27) scale(0.1684,0.1768)" font-family="Liberation Serif" font-weight="normal" font-style="normal" font-size="200" fill="#3a3a3a" stroke="#3a3a3a" stroke-width="1.0" vector-effect="non-scaling-stroke">5</text>
<text transform="translate(740.89,424.27) scale(0.1481,0.1768)" font-family="Liberation Serif" font-weight="normal" font-style="normal" font-size="200" fill="#3a3a3a" stroke="#3a3a3a" stroke-width="1.0" vector-effect="non-scaling-stroke">k</text>
<text transform="translate(845.82,204.14) scale(0.1138,0.1791)" font-family="Liberation Serif" font-weight="normal" font-style="normal" font-size="200" fill="#3a3a3a" stroke="#3a3a3a" stroke-width="1.0" vector-effect="non-scaling-stroke">R</text>
<text transform="translate(860.79,204.14) scale(0.1762,0.1791)" font-family="Liberation Serif" font-weight="normal" font-style="normal" font-size="200" fill="#3a3a3a" stroke="#3a3a3a" stroke-width="1.0" vector-effect="non-scaling-stroke">3</text>
<text transform="translate(867.62,187.42) scale(0.1875,0.2055)" font-family="Liberation Serif" font-weight="normal" font-style="normal" font-size="200" fill="#3a3a3a" stroke="#3a3a3a" stroke-width="1.0" vector-effect="non-scaling-stroke" xml:space="preserve">*</text>
<text transform="translate(1045.77,170.70) scale(0.1216,0.1621)" font-family="Liberation Serif" font-weight="normal" font-style="normal" font-size="200" fill="#3a3a3a" stroke="#3a3a3a" stroke-width="1.0" vector-effect="non-scaling-stroke">R</text>
<text transform="translate(1062.99,170.70) scale(0.1660,0.1621)" font-family="Liberation Serif" font-weight="normal" font-style="normal" font-size="200" fill="#3a3a3a" stroke="#3a3a3a" stroke-width="1.0" vector-effect="non-scaling-stroke">4</text>
<text transform="translate(1081.22,158.29) scale(0.2075,0.2274)" font-family="Liberation Serif" font-weight="normal" font-style="normal" font-size="200" fill="#3a3a3a" stroke="#3a3a3a" stroke-width="1.0" vector-effect="non-scaling-stroke" xml:space="preserve">*</text>
<text transform="translate(872.22,240.45) scale(0.1130,0.1769)" font-family="Liberation Serif" font-weight="normal" font-style="normal" font-size="200" fill="#3a3a3a" stroke="#3a3a3a" stroke-width="1.0" vector-effect="non-scaling-stroke">R</text>
<text transform="translate(887.33,240.45) scale(0.1689,0.1769)" font-family="Liberation Serif" font-weight="normal" font-style="normal" font-size="200" fill="#3a3a3a" stroke="#3a3a3a" stroke-width="1.0" vector-effect="non-scaling-stroke">6</text>
<text transform="translate(912.28,240.46) scale(0.1458,0.1681)" font-family="Liberation Serif" font-weight="normal" font-style="normal" font-size="200" fill="#3a3a3a" stroke="#3a3a3a" stroke-width="1.0" vector-effect="non-scaling-stroke">1</text>
<text transform="translate(927.90,240.46) scale(0.1822,0.1681)" font-family="Liberation Serif" font-weight="normal" font-style="normal" font-size="200" fill="#3a3a3a" stroke="#3a3a3a" stroke-width="1.0" vector-effect="non-scaling-stroke">0</text>
<text transform="translate(945.27,240.46) scale(0.1683,0.1681)" font-family="Liberation Serif" font-weight="normal" font-style="normal" font-size="200" fill="#3a3a3a" stroke="#3a3a3a" stroke-width="1.0" vector-effect="non-scaling-stroke">k</text>
<text transform="translate(884.81,339.50) scale(0.1156,0.1641)" font-family="Liberation Serif" font-weight="normal" font-style="normal" font-size="200" fill="#3a3a3a" stroke="#3a3a3a" stroke-width="1.0" vector-effect="non-scaling-stroke">R</text>
<text transform="translate(899.46,339.50) scale(0.1813,0.1641)" font-family="Liberation Serif" font-weight="normal" font-style="normal" font-size="200" fill="#3a3a3a" stroke="#3a3a3a" stroke-width="1.0" vector-effect="non-scaling-stroke">7</text>
<text transform="translate(926.86,339.20) scale(0.1467,0.1525)" font-family="Liberation Serif" font-weight="normal" font-style="normal" font-size="200" fill="#3a3a3a" stroke="#3a3a3a" stroke-width="1.0" vector-effect="non-scaling-stroke">1</text>
<text transform="translate(942.58,339.20) scale(0.1834,0.1525)" font-family="Liberation Serif" font-weight="normal" font-style="normal" font-size="200" fill="#3a3a3a" stroke="#3a3a3a" stroke-width="1.0" vector-effect="non-scaling-stroke">0</text>
<text transform="translate(960.06,339.20) scale(0.1694,0.1525)" font-family="Liberation Serif" font-weight="normal" font-style="normal" font-size="200" fill="#3a3a3a" stroke="#3a3a3a" stroke-width="1.0" vector-effect="non-scaling-stroke">k</text>
<text transform="translate(851.76,373.98) scale(0.1227,0.1624)" font-family="Liberation Serif" font-weight="normal" font-style="normal" font-size="200" fill="#3a3a3a" stroke="#3a3a3a" stroke-width="1.0" vector-effect="non-scaling-stroke">R</text>
<text transform="translate(872.01,373.98) scale(0.1998,0.1624)" font-family="Liberation Serif" font-weight="normal" font-style="normal" font-size="200" fill="#3a3a3a" stroke="#3a3a3a" stroke-width="1.0" vector-effect="non-scaling-stroke">t</text>
<text transform="translate(852.51,409.20) scale(0.1876,0.1561)" font-family="Liberation Serif" font-weight="normal" font-style="normal" font-size="200" fill="#3a3a3a" stroke="#3a3a3a" stroke-width="1.0" vector-effect="non-scaling-stroke">2</text>
<text transform="translate(869.80,409.20) scale(0.1650,0.1561)" font-family="Liberation Serif" font-weight="normal" font-style="normal" font-size="200" fill="#3a3a3a" stroke="#3a3a3a" stroke-width="1.0" vector-effect="non-scaling-stroke">k</text>
<text transform="translate(1093.78,273.78) scale(0.1100,0.1724)" font-family="Liberation Serif" font-weight="normal" font-style="normal" font-size="200" fill="#3a3a3a" stroke="#3a3a3a" stroke-width="1.0" vector-effect="non-scaling-stroke" xml:space="preserve">V</text>
<text transform="translate(1111.07,274.66) scale(0.1786,0.1708)" font-family="Liberation Serif" font-weight="normal" font-style="normal" font-size="200" fill="#3a3a3a" stroke="#3a3a3a" stroke-width="1.0" vector-effect="non-scaling-stroke" xml:space="preserve">o</text>
<text transform="translate(1037.60,336.86) scale(0.1508,0.1716)" font-family="Liberation Serif" font-weight="normal" font-style="normal" font-size="200" fill="#3a3a3a" stroke="#3a3a3a" stroke-width="1.0" vector-effect="non-scaling-stroke">L</text>
<text transform="translate(1054.43,336.86) scale(0.1050,0.1716)" font-family="Liberation Serif" font-weight="normal" font-style="normal" font-size="200" fill="#3a3a3a" stroke="#3a3a3a" stroke-width="1.0" vector-effect="non-scaling-stroke">M</text>
<text transform="translate(1071.44,336.86) scale(0.1913,0.1716)" font-family="Liberation Serif" font-weight="normal" font-style="normal" font-size="200" fill="#3a3a3a" stroke="#3a3a3a" stroke-width="1.0" vector-effect="non-scaling-stroke">3</text>
<text transform="translate(1089.02,336.86) scale(0.1961,0.1716)" font-family="Liberation Serif" font-weight="normal" font-style="normal" font-size="200" fill="#3a3a3a" stroke="#3a3a3a" stroke-width="1.0" vector-effect="non-scaling-stroke">2</text>
<text transform="translate(1107.54,336.86) scale(0.1687,0.1716)" font-family="Liberation Serif" font-weight="normal" font-style="normal" font-size="200" fill="#3a3a3a" stroke="#3a3a3a" stroke-width="1.0" vector-effect="non-scaling-stroke">4</text>
<text transform="translate(1093.81,390.14) scale(0.1156,0.1805)" font-family="Liberation Serif" font-weight="normal" font-style="normal" font-size="200" fill="#3a3a3a" stroke="#3a3a3a" stroke-width="1.0" vector-effect="non-scaling-stroke">R</text>
<text transform="translate(1108.61,390.14) scale(0.1836,0.1805)" font-family="Liberation Serif" font-weight="normal" font-style="normal" font-size="200" fill="#3a3a3a" stroke="#3a3a3a" stroke-width="1.0" vector-effect="non-scaling-stroke">5</text>
<text transform="translate(1073.86,420.17) scale(0.1465,0.1667)" font-family="Liberation Serif" font-weight="normal" font-style="normal" font-size="200" fill="#3a3a3a" stroke="#3a3a3a" stroke-width="1.0" vector-effect="non-scaling-stroke">1</text>
<text transform="translate(1089.56,420.17) scale(0.1831,0.1667)" font-family="Liberation Serif" font-weight="normal" font-style="normal" font-size="200" fill="#3a3a3a" stroke="#3a3a3a" stroke-width="1.0" vector-effect="non-scaling-stroke">0</text>
<text transform="translate(1106.65,420.17) scale(0.1831,0.1667)" font-family="Liberation Serif" font-weight="normal" font-style="normal" font-size="200" fill="#3a3a3a" stroke="#3a3a3a" stroke-width="1.0" vector-effect="non-scaling-stroke">0</text>
<text transform="translate(1175.13,310.16) scale(0.1484,0.1704)" font-family="Liberation Serif" font-weight="normal" font-style="normal" font-size="200" fill="#3a3a3a" stroke="#3a3a3a" stroke-width="1.0" vector-effect="non-scaling-stroke">1</text>
<text transform="translate(1191.03,310.16) scale(0.1855,0.1704)" font-family="Liberation Serif" font-weight="normal" font-style="normal" font-size="200" fill="#3a3a3a" stroke="#3a3a3a" stroke-width="1.0" vector-effect="non-scaling-stroke">8</text>
<text transform="translate(1223.00,311.30) scale(0.1445,0.1803)" font-family="Liberation Serif" font-weight="normal" font-style="normal" font-size="200" fill="#3a3a3a" stroke="#3a3a3a" stroke-width="1.0" vector-effect="non-scaling-stroke">1</text>
<text transform="translate(1237.49,311.30) scale(0.1873,0.1803)" font-family="Liberation Serif" font-weight="normal" font-style="normal" font-size="200" fill="#3a3a3a" stroke="#3a3a3a" stroke-width="1.0" vector-effect="non-scaling-stroke">7</text>
<text transform="translate(1299.62,310.16) scale(0.1489,0.1716)" font-family="Liberation Serif" font-weight="normal" font-style="normal" font-size="200" fill="#3a3a3a" stroke="#3a3a3a" stroke-width="1.0" vector-effect="non-scaling-stroke">1</text>
<text transform="translate(1315.41,310.16) scale(0.1839,0.1716)" font-family="Liberation Serif" font-weight="normal" font-style="normal" font-size="200" fill="#3a3a3a" stroke="#3a3a3a" stroke-width="1.0" vector-effect="non-scaling-stroke">6</text>
<text transform="translate(1341.80,310.16) scale(0.1445,0.1716)" font-family="Liberation Serif" font-weight="normal" font-style="normal" font-size="200" fill="#3a3a3a" stroke="#3a3a3a" stroke-width="1.0" vector-effect="non-scaling-stroke">1</text>
<text transform="translate(1356.45,310.16) scale(0.1896,0.1716)" font-family="Liberation Serif" font-weight="normal" font-style="normal" font-size="200" fill="#3a3a3a" stroke="#3a3a3a" stroke-width="1.0" vector-effect="non-scaling-stroke">5</text>
<text transform="translate(1411.87,311.60) scale(0.1460,0.1720)" font-family="Liberation Serif" font-weight="normal" font-style="normal" font-size="200" fill="#3a3a3a" stroke="#3a3a3a" stroke-width="1.0" vector-effect="non-scaling-stroke">1</text>
<text transform="translate(1428.32,311.60) scale(0.1648,0.1720)" font-family="Liberation Serif" font-weight="normal" font-style="normal" font-size="200" fill="#3a3a3a" stroke="#3a3a3a" stroke-width="1.0" vector-effect="non-scaling-stroke">4</text>
<text transform="translate(1482.98,313.05) scale(0.1455,0.1761)" font-family="Liberation Serif" font-weight="normal" font-style="normal" font-size="200" fill="#3a3a3a" stroke="#3a3a3a" stroke-width="1.0" vector-effect="non-scaling-stroke">1</text>
<text transform="translate(1498.16,313.05) scale(0.1863,0.1761)" font-family="Liberation Serif" font-weight="normal" font-style="normal" font-size="200" fill="#3a3a3a" stroke="#3a3a3a" stroke-width="1.0" vector-effect="non-scaling-stroke">3</text>
<text transform="translate(1553.18,313.40) scale(0.1455,0.1788)" font-family="Liberation Serif" font-weight="normal" font-style="normal" font-size="200" fill="#3a3a3a" stroke="#3a3a3a" stroke-width="1.0" vector-effect="non-scaling-stroke">1</text>
<text transform="translate(1568.51,313.40) scale(0.1909,0.1788)" font-family="Liberation Serif" font-weight="normal" font-style="normal" font-size="200" fill="#3a3a3a" stroke="#3a3a3a" stroke-width="1.0" vector-effect="non-scaling-stroke">2</text>
<text transform="translate(1625.10,312.16) scale(0.1502,0.1681)" font-family="Liberation Serif" font-weight="normal" font-style="normal" font-size="200" fill="#3a3a3a" stroke="#3a3a3a" stroke-width="1.0" vector-effect="non-scaling-stroke">1</text>
<text transform="translate(1642.62,312.16) scale(0.1502,0.1681)" font-family="Liberation Serif" font-weight="normal" font-style="normal" font-size="200" fill="#3a3a3a" stroke="#3a3a3a" stroke-width="1.0" vector-effect="non-scaling-stroke">1</text>
<text transform="translate(1660.14,312.16) scale(0.1502,0.1681)" font-family="Liberation Serif" font-weight="normal" font-style="normal" font-size="200" fill="#3a3a3a" stroke="#3a3a3a" stroke-width="1.0" vector-effect="non-scaling-stroke">1</text>
<text transform="translate(1676.23,312.16) scale(0.1877,0.1681)" font-family="Liberation Serif" font-weight="normal" font-style="normal" font-size="200" fill="#3a3a3a" stroke="#3a3a3a" stroke-width="1.0" vector-effect="non-scaling-stroke">0</text>
<text transform="translate(1373.05,381.93) scale(0.1807,0.1851)" font-family="Liberation Serif" font-weight="normal" font-style="normal" font-size="200" fill="#3a3a3a" stroke="#3a3a3a" stroke-width="1.0" vector-effect="non-scaling-stroke">S</text>
<text transform="translate(1391.77,381.93) scale(0.1494,0.1851)" font-family="Liberation Serif" font-weight="normal" font-style="normal" font-size="200" fill="#3a3a3a" stroke="#3a3a3a" stroke-width="1.0" vector-effect="non-scaling-stroke">L</text>
<text transform="translate(1408.04,381.93) scale(0.1895,0.1851)" font-family="Liberation Serif" font-weight="normal" font-style="normal" font-size="200" fill="#3a3a3a" stroke="#3a3a3a" stroke-width="1.0" vector-effect="non-scaling-stroke">3</text>
<text transform="translate(1425.45,381.93) scale(0.1942,0.1851)" font-family="Liberation Serif" font-weight="normal" font-style="normal" font-size="200" fill="#3a3a3a" stroke="#3a3a3a" stroke-width="1.0" vector-effect="non-scaling-stroke">2</text>
<text transform="translate(1442.71,381.93) scale(0.1942,0.1851)" font-family="Liberation Serif" font-weight="normal" font-style="normal" font-size="200" fill="#3a3a3a" stroke="#3a3a3a" stroke-width="1.0" vector-effect="non-scaling-stroke">2</text>
<text transform="translate(1188.21,412.00) scale(0.1329,0.1674)" font-family="Liberation Serif" font-weight="normal" font-style="normal" font-size="200" fill="#3a3a3a" stroke="#3a3a3a" stroke-width="1.0" vector-effect="non-scaling-stroke" xml:space="preserve">1</text>
<text transform="translate(1222.28,412.80) scale(0.1800,0.1795)" font-family="Liberation Serif" font-weight="normal" font-style="normal" font-size="200" fill="#3a3a3a" stroke="#3a3a3a" stroke-width="1.0" vector-effect="non-scaling-stroke" xml:space="preserve">2</text>
<text transform="translate(1270.06,413.34) scale(0.1744,0.1776)" font-family="Liberation Serif" font-weight="normal" font-style="normal" font-size="200" fill="#3a3a3a" stroke="#3a3a3a" stroke-width="1.0" vector-effect="non-scaling-stroke" xml:space="preserve">3</text>
<text transform="translate(1341.15,413.70) scale(0.1634,0.1758)" font-family="Liberation Serif" font-weight="normal" font-style="normal" font-size="200" fill="#3a3a3a" stroke="#3a3a3a" stroke-width="1.0" vector-effect="non-scaling-stroke" xml:space="preserve">4</text>
<text transform="translate(1410.88,414.86) scale(0.1762,0.1722)" font-family="Liberation Serif" font-weight="normal" font-style="normal" font-size="200" fill="#3a3a3a" stroke="#3a3a3a" stroke-width="1.0" vector-effect="non-scaling-stroke" xml:space="preserve">5</text>
<text transform="translate(1481.32,414.86) scale(0.1753,0.1709)" font-family="Liberation Serif" font-weight="normal" font-style="normal" font-size="200" fill="#3a3a3a" stroke="#3a3a3a" stroke-width="1.0" vector-effect="non-scaling-stroke" xml:space="preserve">6</text>
<text transform="translate(1565.57,415.20) scale(0.1481,0.1672)" font-family="Liberation Serif" font-weight="normal" font-style="normal" font-size="200" fill="#3a3a3a" stroke="#3a3a3a" stroke-width="1.0" vector-effect="non-scaling-stroke" xml:space="preserve">7</text>
<text transform="translate(1605.88,414.86) scale(0.1774,0.1696)" font-family="Liberation Serif" font-weight="normal" font-style="normal" font-size="200" fill="#3a3a3a" stroke="#3a3a3a" stroke-width="1.0" vector-effect="non-scaling-stroke" xml:space="preserve">8</text>
<text transform="translate(1674.89,416.87) scale(0.1849,0.1634)" font-family="Liberation Serif" font-weight="normal" font-style="normal" font-size="200" fill="#3a3a3a" stroke="#3a3a3a" stroke-width="1.0" vector-effect="non-scaling-stroke" xml:space="preserve">9</text>
<text transform="translate(1256.38,210.50) scale(0.1199,0.1763)" font-family="Liberation Serif" font-weight="normal" font-style="normal" font-size="200" fill="#3a3a3a" stroke="#3a3a3a" stroke-width="1.0" vector-effect="non-scaling-stroke">R</text>
<text transform="translate(1272.38,210.50) scale(0.1637,0.1763)" font-family="Liberation Serif" font-weight="normal" font-style="normal" font-size="200" fill="#3a3a3a" stroke="#3a3a3a" stroke-width="1.0" vector-effect="non-scaling-stroke">=</text>
<text transform="translate(1289.22,210.50) scale(0.1903,0.1763)" font-family="Liberation Serif" font-weight="normal" font-style="normal" font-size="200" fill="#3a3a3a" stroke="#3a3a3a" stroke-width="1.0" vector-effect="non-scaling-stroke">2</text>
<text transform="translate(1306.76,210.50) scale(0.1674,0.1763)" font-family="Liberation Serif" font-weight="normal" font-style="normal" font-size="200" fill="#3a3a3a" stroke="#3a3a3a" stroke-width="1.0" vector-effect="non-scaling-stroke">k</text>
<text transform="translate(1364.81,218.50) scale(0.1142,0.1756)" font-family="Liberation Serif" font-weight="normal" font-style="normal" font-size="200" fill="#3a3a3a" stroke="#3a3a3a" stroke-width="1.0" vector-effect="non-scaling-stroke" xml:space="preserve">R</text>
<text transform="translate(1435.31,218.50) scale(0.1142,0.1756)" font-family="Liberation Serif" font-weight="normal" font-style="normal" font-size="200" fill="#3a3a3a" stroke="#3a3a3a" stroke-width="1.0" vector-effect="non-scaling-stroke" xml:space="preserve">R</text>
<text transform="translate(1506.81,218.50) scale(0.1142,0.1756)" font-family="Liberation Serif" font-weight="normal" font-style="normal" font-size="200" fill="#3a3a3a" stroke="#3a3a3a" stroke-width="1.0" vector-effect="non-scaling-stroke" xml:space="preserve">R</text>
<text transform="translate(1577.51,218.50) scale(0.1142,0.1756)" font-family="Liberation Serif" font-weight="normal" font-style="normal" font-size="200" fill="#3a3a3a" stroke="#3a3a3a" stroke-width="1.0" vector-effect="non-scaling-stroke" xml:space="preserve">R</text>
<text transform="translate(1647.81,218.50) scale(0.1142,0.1756)" font-family="Liberation Serif" font-weight="normal" font-style="normal" font-size="200" fill="#3a3a3a" stroke="#3a3a3a" stroke-width="1.0" vector-effect="non-scaling-stroke" xml:space="preserve">R</text>
<text transform="translate(1292.79,519.50) scale(0.1181,0.1641)" font-family="Liberation Serif" font-weight="normal" font-style="normal" font-size="200" fill="#3a3a3a" stroke="#3a3a3a" stroke-width="1.0" vector-effect="non-scaling-stroke" xml:space="preserve">R</text>
<text transform="translate(1363.29,519.50) scale(0.1181,0.1641)" font-family="Liberation Serif" font-weight="normal" font-style="normal" font-size="200" fill="#3a3a3a" stroke="#3a3a3a" stroke-width="1.0" vector-effect="non-scaling-stroke" xml:space="preserve">R</text>
<text transform="translate(1433.29,519.50) scale(0.1181,0.1641)" font-family="Liberation Serif" font-weight="normal" font-style="normal" font-size="200" fill="#3a3a3a" stroke="#3a3a3a" stroke-width="1.0" vector-effect="non-scaling-stroke" xml:space="preserve">R</text>
<text transform="translate(1503.79,519.50) scale(0.1181,0.1641)" font-family="Liberation Serif" font-weight="normal" font-style="normal" font-size="200" fill="#3a3a3a" stroke="#3a3a3a" stroke-width="1.0" vector-effect="non-scaling-stroke" xml:space="preserve">R</text>
<text transform="translate(1574.29,519.50) scale(0.1181,0.1641)" font-family="Liberation Serif" font-weight="normal" font-style="normal" font-size="200" fill="#3a3a3a" stroke="#3a3a3a" stroke-width="1.0" vector-effect="non-scaling-stroke" xml:space="preserve">R</text>
<text transform="translate(1602.62,633.50) scale(0.1462,0.1603)" font-family="Liberation Serif" font-weight="normal" font-style="normal" font-size="200" fill="#3a3a3a" stroke="#3a3a3a" stroke-width="1.0" vector-effect="non-scaling-stroke">L</text>
<text transform="translate(1619.54,633.50) scale(0.1435,0.1603)" font-family="Liberation Serif" font-weight="normal" font-style="normal" font-size="200" fill="#3a3a3a" stroke="#3a3a3a" stroke-width="1.0" vector-effect="non-scaling-stroke">E</text>
<text transform="translate(1636.59,633.50) scale(0.1170,0.1603)" font-family="Liberation Serif" font-weight="normal" font-style="normal" font-size="200" fill="#3a3a3a" stroke="#3a3a3a" stroke-width="1.0" vector-effect="non-scaling-stroke">D</text>
</svg>
</body></html>
